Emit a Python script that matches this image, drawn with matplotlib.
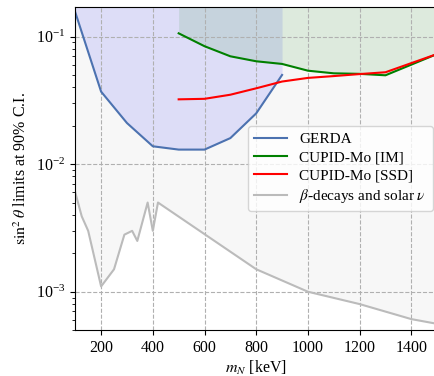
import numpy as np
import matplotlib
matplotlib.use("Agg")
import matplotlib.pyplot as plt

plt.rcParams['font.family'] = ['Liberation Serif', 'DejaVu Serif']
plt.rcParams['mathtext.fontset'] = 'stix'
plt.rcParams['font.size'] = 11.5

# GERDA limit
gerda_m = [100, 200, 300, 400, 500, 600, 700, 800, 900]
gerda_s = [0.155, 0.037, 0.021, 0.0138, 0.013, 0.013, 0.016, 0.025, 0.050]

# CUPID-Mo, inverted-mass analysis
im_m = [500, 600, 700, 800, 900, 1000, 1100, 1200, 1300, 1500]
im_s = [0.106, 0.084, 0.070, 0.064, 0.061, 0.054, 0.0515, 0.051, 0.0497, 0.073]

# CUPID-Mo, single-state-dominance analysis
ssd_m = [500, 600, 700, 800, 900, 1000, 1100, 1200, 1300, 1500]
ssd_s = [0.0322, 0.0325, 0.035, 0.0393, 0.0444, 0.0474, 0.049, 0.0508, 0.0525, 0.073]

# beta decays and solar neutrino bounds
beta_m = [100, 125, 150, 200, 250, 290, 320, 340, 380, 400, 420, 800, 1000, 1200, 1400, 1500]
beta_s = [0.006, 0.0039, 0.003, 0.0011, 0.0015, 0.0028, 0.003, 0.0025, 0.005, 0.003, 0.005,
          0.0015, 0.001, 0.0008, 0.00061, 0.00056]

ytop = 0.17
fig = plt.figure(figsize=(4.35, 3.76), dpi=100)
ax = fig.add_axes([0.173, 0.122, 0.832, 0.859])

ax.fill_between(beta_m, beta_s, ytop, color='gray', alpha=0.06, lw=0)
ax.fill_between(gerda_m, gerda_s, ytop, color='blue', alpha=0.1, lw=0)
ax.fill_between(im_m, im_s, ytop, color='green', alpha=0.1, lw=0)

ax.plot(gerda_m, gerda_s, color='#4c72b0', lw=1.5, label='GERDA')
ax.plot(im_m, im_s, color='green', lw=1.5, label='CUPID-Mo [IM]')
ax.plot(ssd_m, ssd_s, color='red', lw=1.5, label='CUPID-Mo [SSD]')
ax.plot(beta_m, beta_s, color='#bbbbbb', lw=1.5, label=r'$\beta$-decays and solar $\nu$')

ax.set_yscale('log')
ax.set_xlim(100, 1500)
ax.set_ylim(5e-4, ytop)
ax.set_xticks([200, 400, 600, 800, 1000, 1200, 1400])
ax.grid(True, which='major', ls='--', color='#b0b0b0', lw=0.8)
ax.set_xlabel(r'$m_N$ [keV]', labelpad=2)
ax.set_ylabel(r'$\sin^2\theta$ limits at 90% C.I.')
ax.legend(loc='center right', fontsize=11, framealpha=0.8,
          bbox_to_anchor=(1.0, 0.5), borderaxespad=0.3, handlelength=2.2,
          labelspacing=0.3)

fig.savefig('out.png', dpi=100)
